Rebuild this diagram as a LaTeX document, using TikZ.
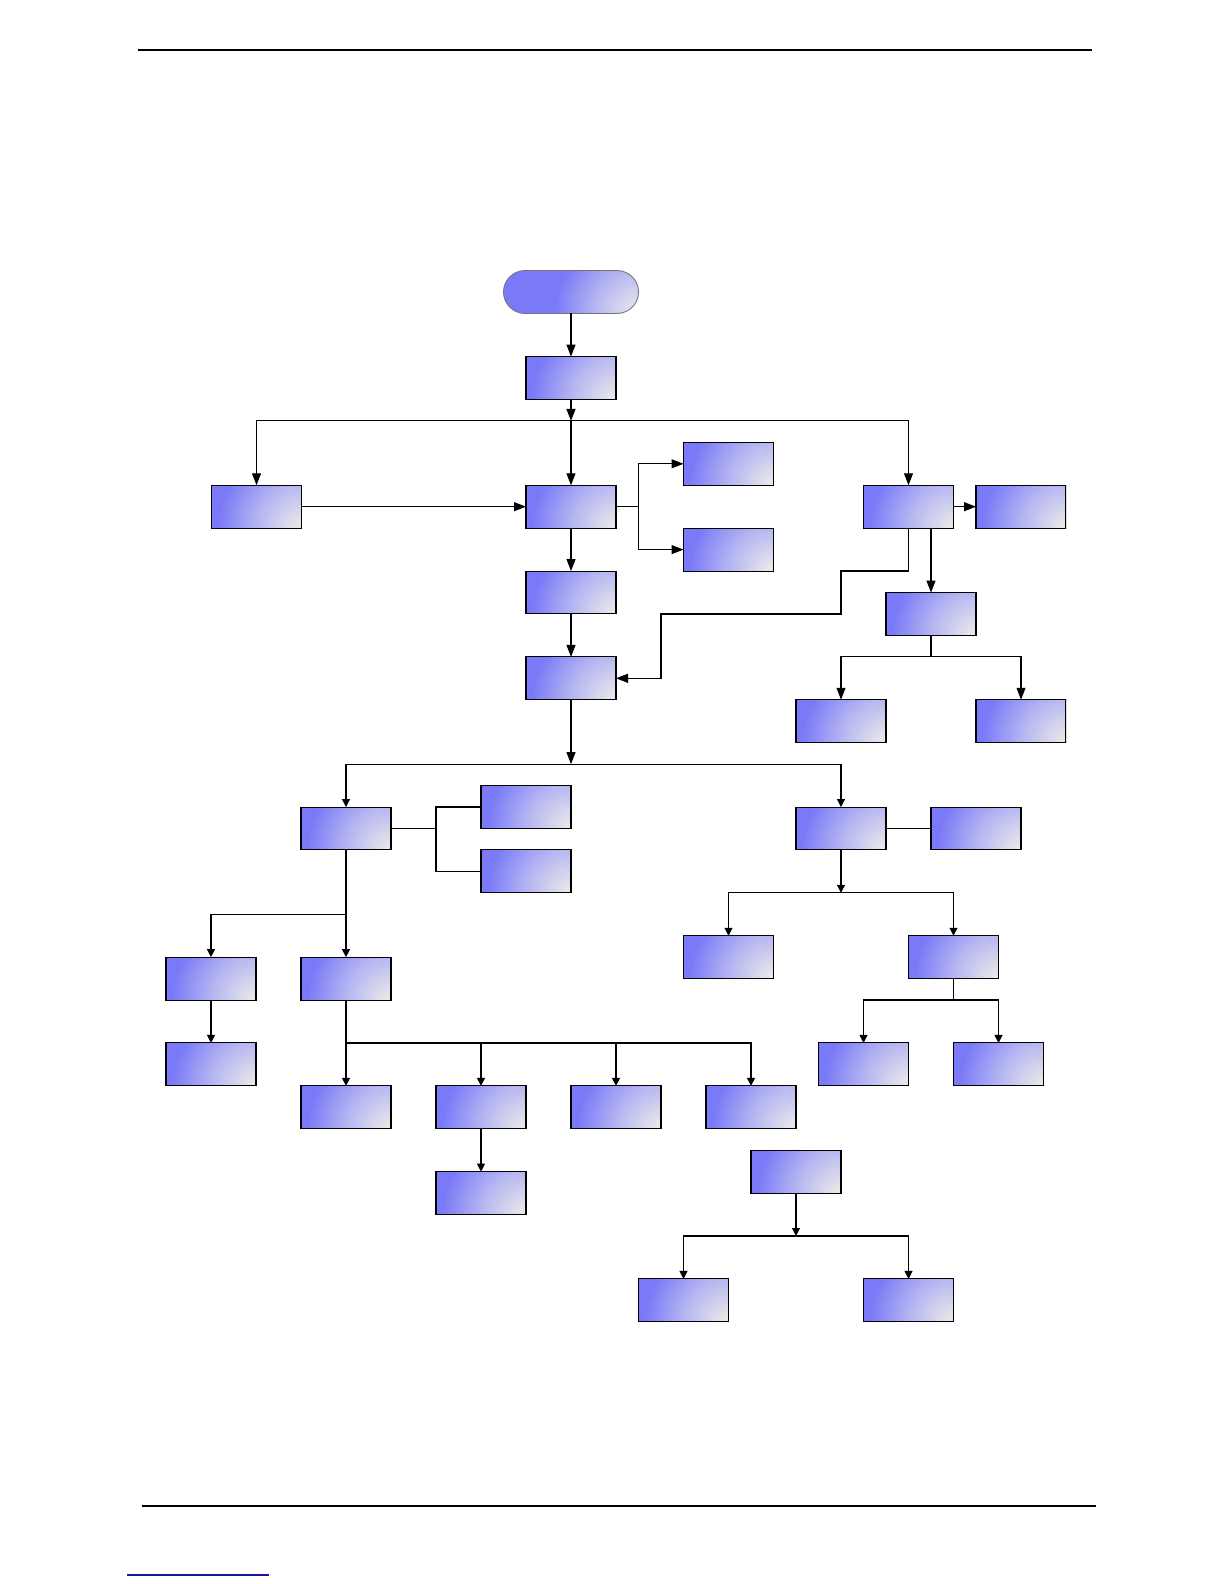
\documentclass[tikz,border=0pt]{standalone}
\usepackage{tikz}
\usetikzlibrary{arrows.meta}
\usetikzlibrary{positioning, shapes.misc}

\definecolor{boxblue}{RGB}{122,122,248}
\definecolor{boxgray}{RGB}{230,230,234}
\definecolor{boxmid}{RGB}{182,182,242}
\definecolor{linkblue}{RGB}{24,24,150}
\pgfdeclareradialshading{boxglow}{\pgfpoint{0bp}{0bp}}{color(0bp)=(boxgray); color(0.7bp)=(boxgray); color(5.5bp)=(boxmid); color(10.5bp)=(boxblue); color(50bp)=(boxblue)}

\begin{document}
\begin{tikzpicture}[
  x=0.05cm, y=-0.05cm,
  box/.style={rectangle,draw,line width=1.5pt,minimum width=4.5cm,minimum height=2.145cm,
    inner sep=0pt,outer sep=0pt,fill=boxblue,
    path picture={\shade[shading=boxglow] (path picture bounding box.south east) circle (10cm);}},
  term/.style={box,rounded rectangle,minimum width=6.75cm,draw=black!55,line width=1.2pt},
  link/.style={line width=1.5pt},
  conn/.style={link,-{Triangle[length=0.4cm,width=0.4cm]}},
  bigconn/.style={link,-{Triangle[length=0.6cm,width=0.45cm]}}
]
  \useasboundingbox (0,0) rectangle (1224,1584);
  \draw[line width=2pt] (138,50) -- (1092,50);
  \draw[line width=1.8pt] (142,1506) -- (1096,1506);
  \draw[line width=1.5pt,linkblue] (127,1575) -- (269,1575);

  \node[term] (st) at (571,292)   {};
  \node[box]  (b1) at (571,378)   {};
  \node[box]  (l)  at (256.5,506.7) {};
  \node[box]  (m)  at (571,506.7) {};
  \node[box]  (r)  at (908.5,506.7) {};
  \node[box]  (t1) at (728.5,463.8) {};
  \node[box]  (t2) at (728.5,549.6) {};
  \node[box]  (m2) at (571,592.5) {};
  \node[box]  (m3) at (571,678.3) {};
  \node[box]  (rs) at (931,614)   {};
  \node[box]  (rs1) at (841,721.2) {};
  \begin{scope}
    \clip (0,0) rectangle (1066,1584);
    \node[box] (rr)  at (1021,506.7) {};
    \node[box] (rs2) at (1021,721.2) {};
  \end{scope}

  \node[box] (a)  at (346,828.5)  {};
  \node[box] (s1) at (526,807)    {};
  \node[box] (s2) at (526,871.4)  {};
  \node[box] (c1) at (211,978.6)  {};
  \node[box] (c2) at (346,978.6)  {};
  \node[box] (c3) at (211,1064.4) {};
  \node[box] (p1) at (346,1107.3) {};
  \node[box] (p2) at (481,1107.3) {};
  \node[box] (p3) at (616,1107.3) {};
  \node[box] (p4) at (751,1107.3) {};
  \node[box] (p5) at (481,1193.1) {};
  \node[box] (d)  at (841,828.5)  {};
  \node[box] (ds) at (976,828.5)  {};
  \node[box] (e1) at (728.5,957.2) {};
  \node[box] (e2) at (953.5,957.2) {};
  \node[box] (f1) at (863.5,1064.4) {};
  \node[box] (f2) at (998.5,1064.4) {};
  \node[box] (g)  at (796,1171.7) {};
  \node[box] (h1) at (683.5,1300.4) {};
  \node[box] (h2) at (908.5,1300.4) {};

  \coordinate (j1) at (571,420.9);
  \coordinate (jt) at (638.5,506.7);
  \coordinate (k1) at (841,571);
  \coordinate (k2) at (661,614);
  \coordinate (jr) at (931,656.9);
  \coordinate (j2) at (571,764.1);
  \coordinate (ja) at (436,828.5);
  \coordinate (ja2) at (346,914.3);
  \coordinate (jp) at (346,1043);
  \coordinate (jd) at (841,892.8);
  \coordinate (je) at (953.5,1000);
  \coordinate (jg) at (796,1236);

  \draw[bigconn] (st) -- (b1);
  \draw[bigconn] (b1) -- (j1);
  \draw[bigconn] (j1) -| (l);
  \draw[bigconn] (j1) -- (m);
  \draw[bigconn] (j1) -| (r);
  \draw[bigconn] (l) -- (m);
  \draw[link] (m) -- (jt);
  \draw[bigconn] (jt) |- (t1);
  \draw[bigconn] (jt) |- (t2);
  \draw[bigconn] (r) -- (rr);
  \draw[bigconn] (r) |- (k1) |- (k2) |- (m3);
  \draw[bigconn] (r.south -| rs) -- (rs);
  \draw[link] (rs) -- (jr);
  \draw[bigconn] (jr) -| (rs1);
  \draw[bigconn] (jr) -| (rs2);
  \draw[bigconn] (m) -- (m2);
  \draw[bigconn] (m2) -- (m3);
  \draw[bigconn] (m3) -- (j2);

  \draw[conn] (j2) -| (a);
  \draw[conn] (j2) -| (d);
  \draw[link] (a) -- (ja);
  \draw[link] (ja) |- (s1);
  \draw[link] (ja) |- (s2);
  \draw[link] (a) -- (ja2);
  \draw[conn] (ja2) -| (c1);
  \draw[conn] (ja2) -- (c2);
  \draw[conn] (c1) -- (c3);
  \draw[link] (c2) -- (jp);
  \draw[conn] (jp) -- (p1);
  \draw[conn] (jp) -| (p2);
  \draw[conn] (jp) -| (p3);
  \draw[conn] (jp) -| (p4);
  \draw[conn] (p2) -- (p5);

  \draw[link] (d) -- (ds);
  \draw[conn] (d) -- (jd);
  \draw[conn] (jd) -| (e1);
  \draw[conn] (jd) -| (e2);
  \draw[link] (e2) -- (je);
  \draw[conn] (je) -| (f1);
  \draw[conn] (je) -| (f2);

  \draw[conn] (g) -- (jg);
  \draw[conn] (jg) -| (h1);
  \draw[conn] (jg) -| (h2);
\end{tikzpicture}
\end{document}
